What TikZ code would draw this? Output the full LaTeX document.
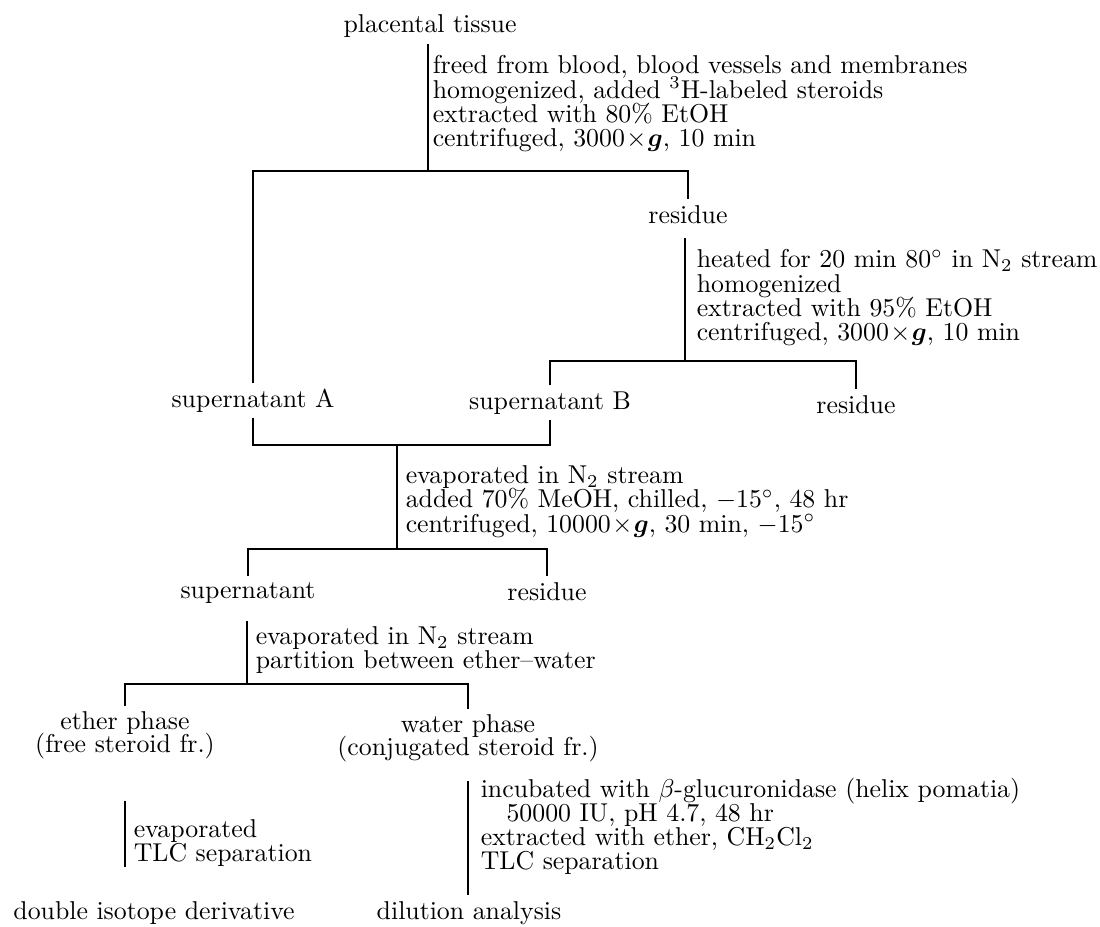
\documentclass[tikz,border=0pt]{standalone}
\usepackage{amsmath}
\usepackage{amssymb}
\usepackage{tikz}
\usetikzlibrary{positioning}

\begin{document}
\begin{tikzpicture}[x=0.3876pt, y=-0.3876pt, line width=0.6pt,
  every node/.style={font=\fontsize{10}{8}\selectfont},
  lbl/.style={anchor=base, inner sep=2pt},
  phase/.style={anchor=north, align=center, inner sep=2pt, font={\fontsize{10}{8.6}\selectfont\lineskiplimit=-10pt}},
  proc/.style={anchor=north west, align=left, inner sep=0pt, font={\fontsize{10}{#1}\selectfont\lineskiplimit=-10pt}},
  proc/.default=9.4pt]
  \useasboundingbox (0,0) rectangle (1100,926);

  % Nodes
  \node[lbl] (tissue) at (430,33) {placental tissue};
  \node[proc] (extract1) at (432,55) {freed from blood, blood vessels and membranes\\
    homogenized, added $^3$H-labeled steroids\\
    extracted with 80\% EtOH\\
    centrifuged, $3000\!\times\!\boldsymbol{g}$, 10 min};
  \node[lbl] (res1) at (688,223) {residue};
  \node[proc] (extract2) at (696,249) {heated for 20 min $80^\circ$ in N$_2$ stream\\
    homogenized\\
    extracted with 95\% EtOH\\
    centrifuged, $3000\!\times\!\boldsymbol{g}$, 10 min};
  \node[lbl] (supA) at (253,407) {supernatant A};
  \node[lbl] (supB) at (550,409) {supernatant B};
  \node[lbl] (res2) at (856,413) {residue};
  \node[proc] (chill) at (405,465) {evaporated in N$_2$ stream\\
    added 70\% MeOH, chilled, $-15^\circ$, 48 hr\\
    centrifuged, $10000\!\times\!\boldsymbol{g}$, 30 min, $-15^\circ$};
  \node[lbl] (sup) at (248,598) {supernatant};
  \node[lbl] (res3) at (547,600) {residue};
  \node[proc] (partition) at (255,626) {evaporated in N$_2$ stream\\
    partition between ether--water};
  \node[phase] (ether) at (125,706) {ether phase\\(free steroid fr.)};
  \node[phase] (water) at (468,709) {water phase\\(conjugated steroid fr.)};
  \node[proc] (tlcfree) at (133,819) {evaporated\\
    TLC separation};
  \node[proc] (hydrol) at (480,777) {incubated with $\beta$-glucuronidase (helix pomatia)\\
    \hspace*{1em}50000 IU, pH 4.7, 48 hr\\
    extracted with ether, CH$_2$Cl$_2$\\
    TLC separation};
  \node[lbl] (double) at (154,919) {double isotope derivative};
  \node[lbl] (dilution) at (469,919) {dilution analysis};

  % Junctions
  \coordinate (split1) at (428,171);
  \coordinate (split2) at (685,361);
  \coordinate (merge1) at (397,445);
  \coordinate (split3) at (397,549);
  \coordinate (split4) at (247,684);

  % Lines
  \draw (tissue.south -| split1) -- (split1);
  \draw (supA.north) |- (split1) -| (res1.north);
  \draw[shorten <=3.5pt] (res1.south -| split2) -- (split2);
  \draw (supB.north) |- (split2) -| (res2.north);
  \draw (supA.south) |- (merge1) -| (supB.south);
  \draw (merge1) -- (split3);
  \draw (sup.north) |- (split3) -| (res3.north);
  \draw[shorten <=4.6pt] (sup.south -| split4) -- (split4);
  \draw (ether.north) |- (split4) -| (water.north);
  \draw[shorten <=14pt, shorten >=10.9pt] (ether.south) -- (ether.south |- double.north);
  \draw[shorten <=5.4pt] (water.south) -- (water.south |- dilution.north);
\end{tikzpicture}
\end{document}
